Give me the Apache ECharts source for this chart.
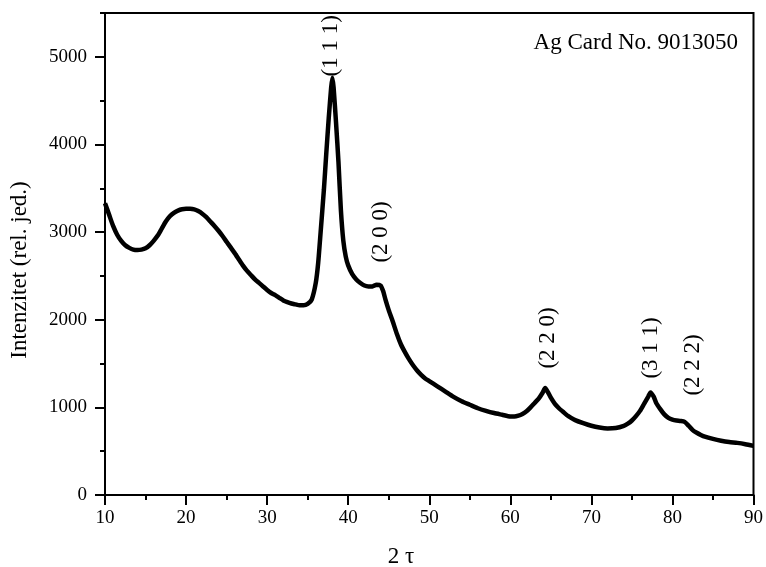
<!DOCTYPE html>
<html>
<head>
<meta charset="utf-8">
<title>XRD – Ag</title>
<script src="https://cdn.jsdelivr.net/npm/echarts@6/dist/echarts.min.js"></script>
<style>
  html, body { margin: 0; padding: 0; background: #fff; }
  #chart { width: 766px; height: 567px; }
</style>
</head>
<body>
<div id="chart"></div>
<script>
// Diffraction pattern: 2θ (deg) and intensity (rel. units)
const twoTheta = [
  10, 10.5, 11, 11.5, 12, 12.5, 13, 13.5, 14, 14.5, 15, 15.5, 16, 16.5, 17, 17.5,
  18, 18.5, 19, 19.5, 20, 20.5, 21, 21.5, 22, 22.5, 23, 23.5, 24, 24.5, 25, 25.5,
  26, 26.5, 27, 27.5, 28, 28.5, 29, 29.5, 30, 30.5, 31, 31.5, 32, 32.5, 33, 33.5,
  34, 34.5, 35, 35.5, 36, 36.3, 36.6, 37, 37.3, 37.6, 37.9, 38.05, 38.2, 38.5,
  38.8, 39.1, 39.4, 39.7, 40, 40.5, 41, 41.5, 42, 42.5, 43, 43.5, 44, 44.3, 44.6,
  45, 45.5, 46, 46.5, 47, 47.5, 48, 48.5, 49, 49.5, 50, 51, 52, 53, 54, 55, 56,
  57, 58, 59, 60, 60.5, 61, 61.5, 62, 62.5, 63, 63.5, 64, 64.3, 64.6, 65, 65.5,
  66, 66.5, 67, 67.5, 68, 69, 70, 71, 72, 73, 74, 74.5, 75, 75.5, 76, 76.5, 77,
  77.3, 77.7, 78, 78.5, 79, 79.5, 80, 80.5, 81, 81.5, 82, 82.5, 83, 83.5, 84, 85,
  86, 87, 88, 89, 90
];
const intensity = [
  3330, 3200, 3070, 2970, 2900, 2850, 2820, 2800, 2795, 2800, 2815, 2850, 2900, 2960, 3040, 3120,
  3180, 3220, 3245, 3260, 3265, 3265, 3260, 3240, 3210, 3170, 3120, 3070, 3015, 2955, 2890, 2825,
  2760, 2690, 2620, 2560, 2510, 2460, 2420, 2380, 2340, 2305, 2280, 2250, 2220, 2200, 2185, 2175,
  2165, 2165, 2180, 2230, 2420, 2650, 3000, 3480, 3900, 4300, 4650, 4760, 4650, 4250,
  3800, 3250, 2900, 2720, 2620, 2520, 2460, 2420, 2390, 2380, 2380, 2400, 2390, 2330, 2230,
  2110, 1980, 1840, 1720, 1630, 1550, 1480, 1420, 1370, 1330, 1300, 1240, 1180, 1120, 1070, 1030, 990,
  960, 935, 915, 895, 895, 905, 925, 955, 1000, 1050, 1100, 1170, 1220, 1180, 1110, 1040,
  990, 950, 910, 880, 855, 820, 790, 770, 760, 765, 790, 815, 850, 900, 960, 1040, 1120,
  1170, 1120, 1050, 980, 920, 880, 860, 850, 845, 835, 790, 740, 710, 685, 665, 640,
  620, 605, 595, 580, 560
];

// Miller indices of the Ag reflections and where their captions sit (2θ, intensity)
const hklLabels = ['(1 1 1)', '(2 0 0)', '(2 2 0)', '(3 1 1)', '(2 2 2)'];
const hklX = [37.85, 44.1, 64.7, 77.4, 82.5];
const hklY = [5126, 3002, 1792, 1678, 1484];

const xTicks = { min: 10, max: 90, step: 10 };
const yTicks = { min: 0, max: 5500, step: 1000, minorStep: 500 };

const FONT = "'Liberation Serif', 'Times New Roman', serif";

const chart = echarts.init(document.getElementById('chart'), null, { renderer: 'canvas' });

const pattern = twoTheta.map((x, i) => [x, intensity[i]]);
const captions = hklLabels.map((t, i) => ({ value: [hklX[i], hklY[i]], name: t }));

chart.setOption({
  animation: false,
  backgroundColor: '#ffffff',
  grid: {
    left: 105, right: 9, top: 13, bottom: 72,
    show: true, borderColor: '#000', borderWidth: 2, backgroundColor: 'transparent'
  },
  xAxis: {
    type: 'value',
    min: xTicks.min, max: xTicks.max, interval: xTicks.step,
    axisLine: { show: true, lineStyle: { color: '#000', width: 2 } },
    axisTick: { show: true, length: 10, lineStyle: { color: '#000', width: 2 } },
    minorTick: { show: true, splitNumber: 2, length: 5, lineStyle: { color: '#000', width: 2 } },
    splitLine: { show: false },
    axisLabel: { color: '#000', fontFamily: FONT, fontSize: 19, margin: 14, formatter: v => String(v) }
  },
  yAxis: [
    {
      type: 'value',
      position: 'left',
      min: yTicks.min, max: yTicks.max, interval: yTicks.step,
      axisLine: { show: true, lineStyle: { color: '#000', width: 2 } },
      axisTick: { show: true, length: 10, lineStyle: { color: '#000', width: 2 } },
      splitLine: { show: false },
      axisLabel: {
        color: '#000', fontFamily: FONT, fontSize: 19, margin: 18,
        showMaxLabel: false, formatter: v => String(v)
      }
    },
    {
      type: 'value',
      position: 'left',
      min: yTicks.min, max: yTicks.max, interval: yTicks.minorStep,
      axisLine: { show: false },
      axisTick: { show: true, length: 5, lineStyle: { color: '#000', width: 2 } },
      splitLine: { show: false },
      axisLabel: { show: false }
    }
  ],
  series: [
    {
      type: 'line',
      data: pattern,
      yAxisIndex: 0,
      showSymbol: false,
      symbol: 'none',
      smooth: 0.2,
      lineStyle: { color: '#000', width: 4.5 },
      z: 3
    },
    {
      type: 'scatter',
      data: captions,
      yAxisIndex: 0,
      symbolSize: 0,
      silent: true,
      itemStyle: { opacity: 1 },
      label: {
        show: true,
        position: 'inside',
        rotate: 90,
        formatter: p => p.name,
        color: '#000',
        opacity: 1,
        fontFamily: FONT,
        fontSize: 23
      },
      z: 4
    }
  ],
  graphic: [
    {
      type: 'text',
      right: 28, top: 31,
      style: { text: 'Ag Card No. 9013050', fill: '#000', font: '23px ' + FONT }
    },
    {
      type: 'text',
      x: 20, y: 270,
      rotation: Math.PI / 2,
      style: {
        text: 'Intenzitet (rel. jed.)', fill: '#000', font: '23px ' + FONT,
        align: 'center', verticalAlign: 'middle'
      }
    },
    {
      type: 'text',
      x: 401, y: 557,
      style: {
        text: '2 τ', fill: '#000', font: '23px ' + FONT,
        align: 'center', verticalAlign: 'middle'
      }
    }
  ]
});
</script>
</body>
</html>
